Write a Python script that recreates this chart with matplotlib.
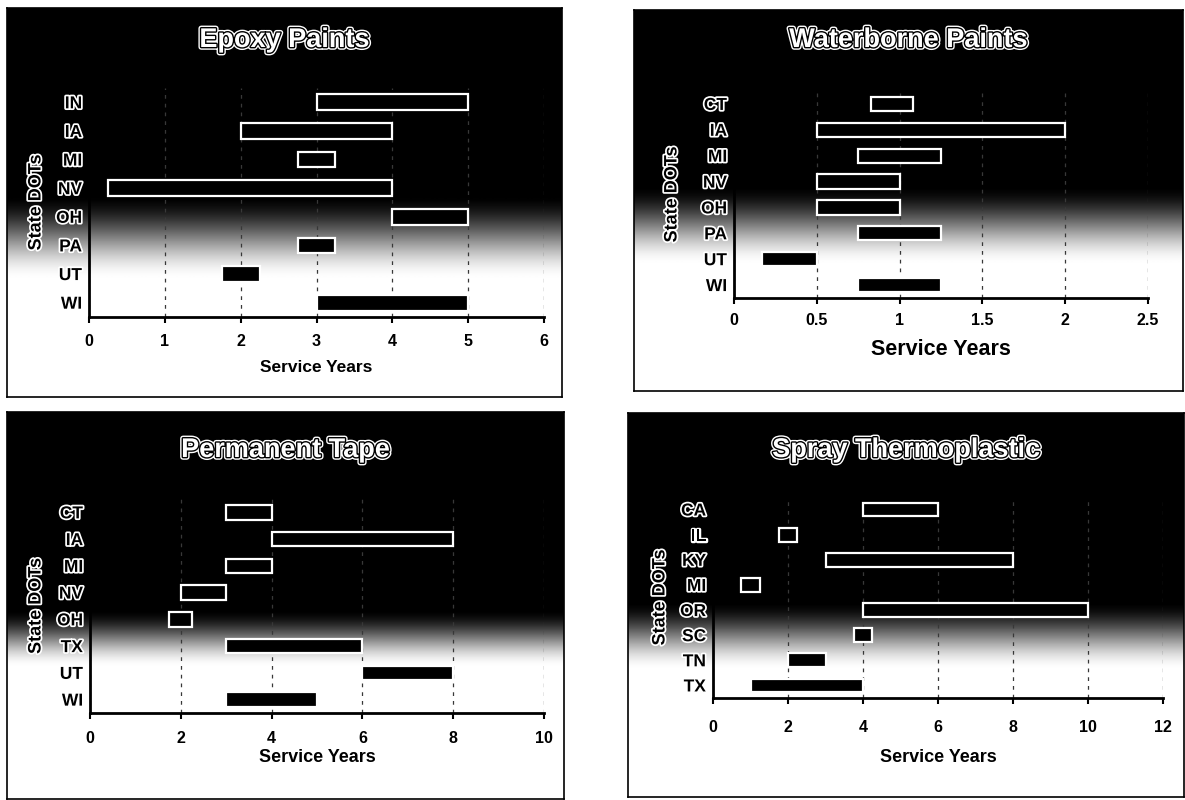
import numpy as np
import matplotlib.pyplot as plt
import matplotlib.patheffects as pe

plt.rcParams['font.family'] = ['Liberation Sans', 'DejaVu Sans']

W, H = 1185, 800

# Epoxy Paints
epoxy_states = ['IN', 'IA', 'MI', 'NV', 'OH', 'PA', 'UT', 'WI']
epoxy_start = [3, 2, 2.75, 0.25, 4, 2.75, 1.75, 3]
epoxy_end = [5, 4, 3.25, 4, 5, 3.25, 2.25, 5]

# Waterborne Paints
water_states = ['CT', 'IA', 'MI', 'NV', 'OH', 'PA', 'UT', 'WI']
water_start = [0.83, 0.5, 0.75, 0.5, 0.5, 0.75, 0.17, 0.75]
water_end = [1.08, 2, 1.25, 1, 1, 1.25, 0.5, 1.25]

# Permanent Tape
tape_states = ['CT', 'IA', 'MI', 'NV', 'OH', 'TX', 'UT', 'WI']
tape_start = [3, 4, 3, 2, 1.75, 3, 6, 3]
tape_end = [4, 8, 4, 3, 2.25, 6, 8, 5]

# Spray Thermoplastic
spray_states = ['CA', 'IL', 'KY', 'MI', 'OR', 'SC', 'TN', 'TX']
spray_start = [4, 1.75, 3, 0.75, 4, 3.75, 2, 1]
spray_end = [6, 2.25, 8, 1.25, 10, 4.25, 3, 4]

outline = [pe.Stroke(linewidth=2.5, foreground='white'), pe.Normal()]
title_fx = [pe.Stroke(linewidth=4, foreground='white'),
            pe.Stroke(linewidth=2, foreground='black'), pe.Normal()]


def rect(x0, y0, x1, y1):
    return [x0 / W, 1 - y1 / H, (x1 - x0) / W, (y1 - y0) / H]


def panel(fig, frame, box, title, states, start, end, xmax, step, fade,
          title_y, xlab_y, ylab_x, xlab_size, pad):
    # background with dark-to-light fade
    bg = fig.add_axes(rect(*frame))
    t = np.linspace(0, 1, 400)[:, None]
    a, b = fade
    shade = np.clip((t - a) / (b - a), 0, 1)
    shade = shade * shade * (3 - 2 * shade)
    bg.imshow(shade, cmap='gray', vmin=0, vmax=1, aspect='auto',
              extent=(0, 1, 0, 1), interpolation='bilinear')
    bg.set_xticks([])
    bg.set_yticks([])
    for s in bg.spines.values():
        s.set_linewidth(1.2)
        s.set_color('black')
    fy = 1 - (title_y - frame[1]) / (frame[3] - frame[1])
    bg.text(0.5, fy, title, transform=bg.transAxes, ha='center', va='center',
            fontsize=19.5, fontweight='bold', color='white', path_effects=title_fx)

    ax = fig.add_axes(rect(*box))
    ax.set_facecolor('none')
    y = np.arange(len(states))
    ax.barh(y, np.subtract(end, start), left=start, height=0.55,
            color='black', edgecolor='white', linewidth=1.6, zorder=3)
    ax.set_yticks(y, states)
    ax.set_ylim(len(states) - 0.5, -0.5)
    ax.set_xlim(0, xmax)
    ticks = np.arange(0, xmax + step / 2, step)
    ax.set_xticks(ticks, ['{:g}'.format(v) for v in ticks])
    ax.grid(axis='x', linestyle=(0, (3, 4)), color='#383838', linewidth=0.9)
    ax.set_axisbelow(True)
    for side in ['top', 'right']:
        ax.spines[side].set_visible(False)
    for side in ['left', 'bottom']:
        ax.spines[side].set_linewidth(2)
        ax.spines[side].set_color('black')
    ax.tick_params(axis='x', direction='out', length=4, width=1.5, pad=pad,
                   labelsize=11.5)
    ax.tick_params(axis='y', length=0, pad=5, labelsize=12.5)
    for lbl in ax.get_xticklabels():
        lbl.set_fontweight('bold')
    for lbl in ax.get_yticklabels():
        lbl.set_fontweight('bold')
        lbl.set_path_effects(outline)

    bw = box[2] - box[0]
    bh = box[3] - box[1]
    ax.set_xlabel('Service Years', fontsize=xlab_size, fontweight='bold', va='center')
    ax.xaxis.set_label_coords(0.5, -(xlab_y - box[3]) / bh)
    ax.set_ylabel('State DOTs', fontsize=13, fontweight='bold', va='center',
                  path_effects=outline)
    ax.yaxis.set_label_coords(-(box[0] - ylab_x) / bw, 0.5)


fig = plt.figure(figsize=(W / 100, H / 100), dpi=100)

panel(fig, (7, 8, 562, 397), (89, 88, 544, 317), 'Epoxy Paints',
      epoxy_states, epoxy_start, epoxy_end, 6, 1, (0.48, 0.70),
      40, 367, 36, 12.5, 8)
panel(fig, (634, 10, 1183, 391), (734, 91, 1148, 298), 'Waterborne Paints',
      water_states, water_start, water_end, 2.5, 0.5, (0.46, 0.67),
      40, 349, 672, 15.5, 7)
panel(fig, (7, 412, 564, 799), (90, 499, 544, 713), 'Permanent Tape',
      tape_states, tape_start, tape_end, 10, 2, (0.51, 0.66),
      450, 758, 36, 13, 9)
panel(fig, (628, 413, 1184, 797), (713, 497, 1163, 698), 'Spray Thermoplastic',
      spray_states, spray_start, spray_end, 12, 2, (0.49, 0.67),
      450, 758, 660, 13, 12)

fig.savefig('out.png', dpi=100)
